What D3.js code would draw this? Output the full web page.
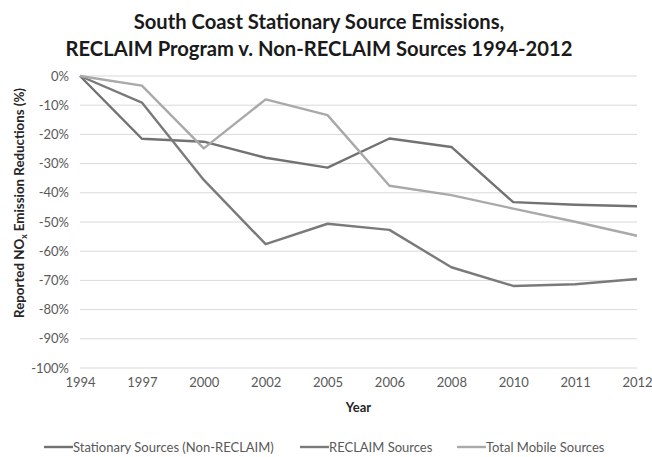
<!DOCTYPE html>
<html>
<head>
<meta charset="utf-8">
<script src="https://cdn.jsdelivr.net/npm/d3@7"></script>
<style>
  body { margin: 0; background: #fff; }
  svg { display: block; font-family: Lato, "Open Sans", sans-serif; }
</style>
</head>
<body>
<svg width="652" height="457"></svg>
<script>
// Données
const years = ['1994', '1997', '2000', '2002', '2005', '2006', '2008', '2010', '2011', '2012'];
const stationary = [0, -21.5, -22.5, -28, -31.4, -21.4, -24.3, -43.2, -44.1, -44.6];
const reclaim = [0, -9.1, -35.6, -57.6, -50.6, -52.7, -65.5, -71.9, -71.3, -69.5];
const mobile = [0, -3.3, -24.8, -8, -13.4, -37.6, -40.8, -45.4, -49.9, -54.7];
const yTicks = [0, -10, -20, -30, -40, -50, -60, -70, -80, -90, -100];

const series = [
  {nom: 'Stationary Sources (Non-RECLAIM)', valeurs: stationary, couleur: '#727272'},
  {nom: 'RECLAIM Sources', valeurs: reclaim, couleur: '#7a7a7a'},
  {nom: 'Total Mobile Sources', valeurs: mobile, couleur: '#a9a9a9'}
];

const svg = d3.select('svg');
const margin = {left: 80, right: 15, top: 76, bottom: 89};
const width = +svg.attr('width');
const height = +svg.attr('height');

const x = d3.scalePoint().domain(years).range([margin.left, width - margin.right]);
const y = d3.scaleLinear().domain([-100, 0]).range([height - margin.bottom, margin.top]);

// Titre
const titre = svg.append('text')
  .attr('text-anchor', 'middle')
  .attr('font-weight', 'bold')
  .attr('font-size', 20.2)
  .attr('fill', '#1a1a1a');
titre.append('tspan').attr('x', 319).attr('y', 29).text('South Coast Stationary Source Emissions,');
titre.append('tspan').attr('x', 319).attr('y', 56).text('RECLAIM Program v. Non-RECLAIM Sources 1994-2012');

// Grille horizontale
svg.append('g')
  .selectAll('line')
  .data(yTicks)
  .join('line')
  .attr('x1', margin.left)
  .attr('x2', width - margin.right)
  .attr('y1', d => y(d))
  .attr('y2', d => y(d))
  .attr('stroke', '#d9d9d9')
  .attr('stroke-width', 1);

// Axe Y (étiquettes seulement)
const yAxis = svg.append('g')
  .attr('transform', `translate(${margin.left},0)`)
  .call(d3.axisLeft(y).tickValues(yTicks).tickSize(0).tickPadding(11).tickFormat(d => d + '%'));
yAxis.select('.domain').remove();
yAxis.selectAll('text').attr('font-size', 13).attr('fill', '#595959').attr('font-family', 'Lato, sans-serif');

// Axe X
const xAxis = svg.append('g')
  .attr('transform', `translate(0,${height - margin.bottom})`)
  .call(d3.axisBottom(x).tickSize(0).tickPadding(10));
xAxis.select('.domain').remove();
xAxis.selectAll('text').attr('font-size', 13).attr('fill', '#595959').attr('font-family', 'Lato, sans-serif');

// Titres des axes
svg.append('text')
  .attr('x', (margin.left + width - margin.right) / 2)
  .attr('y', 412)
  .attr('text-anchor', 'middle')
  .attr('font-weight', 'bold')
  .attr('font-size', 13)
  .attr('fill', '#262626')
  .text('Year');

const yTitre = svg.append('text')
  .attr('transform', 'translate(24,203) rotate(-90)')
  .attr('text-anchor', 'middle')
  .attr('font-weight', 'bold')
  .attr('font-size', 13.3)
  .attr('fill', '#262626');
yTitre.append('tspan').text('Reported NO');
yTitre.append('tspan').attr('font-size', 8.5).attr('dy', 3).text('x');
yTitre.append('tspan').attr('dy', -3).text(' Emission Reductions (%)');

// Lignes
const ligne = d3.line()
  .x((d, i) => x(years[i]))
  .y(d => y(d));

svg.append('g')
  .selectAll('path')
  .data(series)
  .join('path')
  .attr('d', d => ligne(d.valeurs))
  .attr('fill', 'none')
  .attr('stroke', d => d.couleur)
  .attr('stroke-width', 2.4)
  .attr('stroke-linejoin', 'round');

// Légende
const legendeX = [44, 300, 457];
const legende = svg.append('g')
  .selectAll('g')
  .data(series)
  .join('g')
  .attr('transform', (d, i) => `translate(${legendeX[i]},447)`);
legende.append('line')
  .attr('x1', 0).attr('x2', 29)
  .attr('stroke', d => d.couleur)
  .attr('stroke-width', 2.4);
legende.append('text')
  .attr('x', 29)
  .attr('dy', '0.35em')
  .attr('font-size', 13)
  .attr('fill', '#595959')
  .text(d => d.nom);
</script>
</body>
</html>
